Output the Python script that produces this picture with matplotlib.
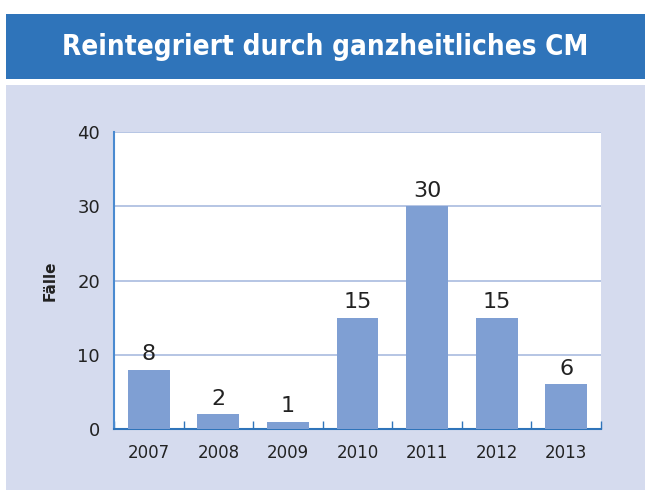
import matplotlib
matplotlib.use('Agg')
import matplotlib.pyplot as plt
from matplotlib.patches import Rectangle

# 数据
jahre = ['2007', '2008', '2009', '2010', '2011', '2012', '2013']
faelle = [8, 2, 1, 15, 30, 15, 6]
titel = 'Reintegriert durch ganzheitliches CM'

fig = plt.figure(figsize=(6.45, 4.95), dpi=100)
fig.patch.set_facecolor('white')

# 标题栏和背景面板
fig.patches.append(Rectangle((6 / 645, 1 - 79 / 495), 1, 65 / 495, transform=fig.transFigure,
                             facecolor='#2f74ba', edgecolor='none', zorder=-10))
fig.patches.append(Rectangle((6 / 645, 1 - 490 / 495), 1, 405 / 495, transform=fig.transFigure,
                             facecolor='#d5dbee', edgecolor='none', zorder=-10))
fig.text(0.5 + 3 / 645, 1 - 47 / 495, titel, color='white', fontsize=20, fontweight='bold',
         fontstretch='condensed', family=['DejaVu Sans'], ha='center', va='center')

ax = fig.add_axes([114 / 645, 1 - 429 / 495, (601 - 114) / 645, (429 - 132) / 495])
ax.set_zorder(5)
ax.set_facecolor('white')
x = range(len(jahre))
bars = ax.bar(x, faelle, width=0.6, color='#7f9fd3', zorder=3)
ax.set_xlim(-0.5, len(jahre) - 0.5)
ax.set_ylim(0, 40)
ax.set_yticks([0, 10, 20, 30, 40])
ax.yaxis.grid(True, color='#a9bbdf', linewidth=1.2, zorder=0)
ax.set_axisbelow(True)
ax.set_xticks(list(x))
ax.set_xticklabels(jahre)
ax.set_xticks([i + 0.5 for i in range(-1, len(jahre))], minor=True)
ax.tick_params(axis='x', which='major', length=0, pad=11, labelsize=12, labelcolor='#222222')
ax.tick_params(axis='x', which='minor', direction='in', length=6, color='#2f74ba', width=1)
ax.tick_params(axis='y', length=0, pad=10, labelsize=13, labelcolor='#222222')
for s in ['top', 'right']:
    ax.spines[s].set_visible(False)
ax.spines['left'].set_color('#4a8ad0')
ax.spines['left'].set_linewidth(1.5)
ax.spines['bottom'].set_color('#2f74ba')
ax.spines['bottom'].set_linewidth(1.5)
ax.set_ylabel('Fälle', fontsize=11, fontweight='bold', labelpad=14, color='#222222')

# 数值标签
for b, v in zip(bars, faelle):
    ax.annotate(str(v), (b.get_x() + b.get_width() / 2, v), xytext=(0, 4),
                textcoords='offset points', ha='center', va='bottom',
                fontsize=16, color='#222222')

fig.savefig('out.png', dpi=100)
